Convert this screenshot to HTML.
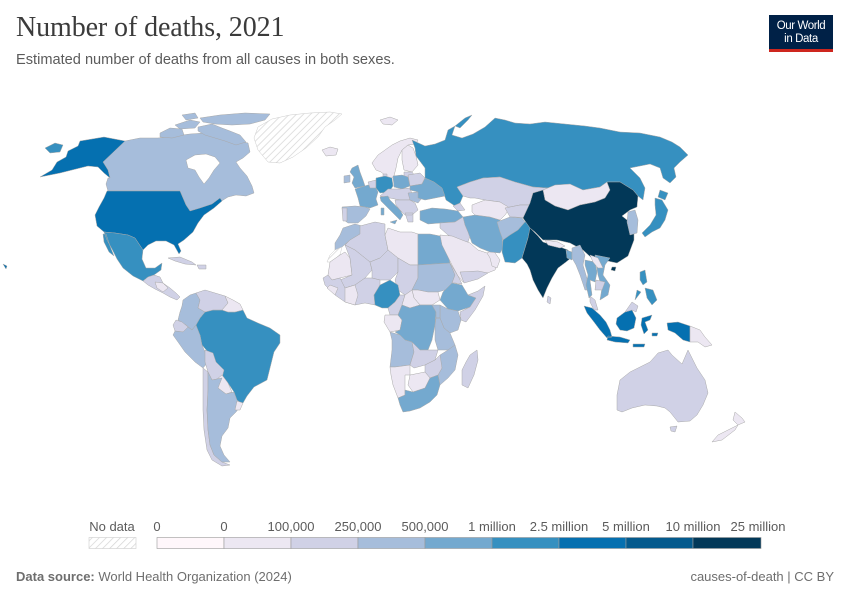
<!DOCTYPE html>
<html><head><meta charset="utf-8">
<style>
html,body{margin:0;padding:0;background:#fff;}
body{width:850px;height:600px;position:relative;overflow:hidden;font-family:"Liberation Sans",sans-serif;}
.title{position:absolute;left:16px;top:12px;font-family:"Liberation Serif",serif;font-size:28px;color:#3b3b3b;letter-spacing:-0.1px;}
.sub{position:absolute;left:16px;top:52px;font-size:14.6px;color:#5b5b5b;}
.logo{position:absolute;left:769px;top:15px;width:64px;height:37px;background:#002147;color:#fff;font-size:11.5px;line-height:12.5px;text-align:center;}
.logo div{padding-top:5px;letter-spacing:-0.4px}
.logo .bar{position:absolute;left:0;bottom:0;width:64px;height:3px;background:#ce261e;padding:0}
.foot{position:absolute;top:569px;font-size:13px;color:#6e6e6e;}
svg{position:absolute;left:0;top:0}
</style></head><body>
<div class="title">Number of deaths, 2021</div>
<div class="sub">Estimated number of deaths from all causes in both sexes.</div>
<div class="logo"><div>Our World<br>in Data</div><div class="bar"></div></div>
<svg width="850" height="600" viewBox="0 0 850 600">
<defs>
<pattern id="h" width="5" height="5" patternUnits="userSpaceOnUse" patternTransform="rotate(45)">
<rect width="5" height="5" fill="#fff"/><line x1="0" y1="0" x2="0" y2="5" stroke="#d4d4d4" stroke-width="1.4"/>
</pattern>
</defs>
<g stroke="#a9a9a9" stroke-width="0.5" stroke-linejoin="round">
<!-- North America -->
<path fill="#a6bddb" d="M125,141 L140,138 L158,138 L175,136 L190,134 L205,133 L220,136 L235,140 L248,143 L250,152 L243,158 L236,162 L240,168 L247,176 L252,186 L254,193 L246,196 L236,195 L228,197 L220,202 L212,207 L202,208 L190,211 L186,205 L180,191 L108,191 L106,184 L108,178 L110,178 L108,170 L103,162 Z"/>
<path fill="#fff" d="M186,160 L195,155 L206,154 L215,157 L220,163 L214,170 L209,178 L204,184 L199,177 L195,170 L188,168 Z"/>
<path fill="#a6bddb" d="M160,133 L170,128 L182,129 L184,135 L172,138 L160,137 Z M175,125 L190,120 L200,122 L195,128 L180,129 Z M198,127 L212,124 L222,128 L230,131 L240,135 L246,142 L236,145 L225,141 L215,138 L205,135 L198,131 Z M200,118 L220,115 L245,113 L270,114 L265,120 L250,124 L232,125 L215,124 L203,122 Z M182,115 L195,113 L198,118 L186,120 Z"/>
<path fill="url(#h)" stroke="#ccc" d="M268,162 L258,150 L254,138 L258,127 L272,119 L290,115 L310,113 L330,112 L342,114 L335,120 L325,127 L318,137 L306,148 L293,157 L280,163 Z"/>
<path fill="#0570b0" d="M40,177 L52,170 L57,162 L66,157 L68,151 L78,146 L80,141 L92,139 L104,137 L125,141 L103,162 L108,170 L110,178 L104,173 L98,167 L88,166 L76,169 L60,173 Z"/>
<path fill="#3690c0" d="M45,148 L55,143 L63,145 L60,152 L50,153 Z"/>
<path fill="#0570b0" d="M107,191 L180,191 L186,205 L190,211 L200,208 L212,204 L220,198 L222,201 L214,208 L204,215 L198,223 L193,232 L184,240 L178,244 L181,251 L179,254 L174,245 L166,241 L156,241 L148,245 L143,250 L135,238 L128,235 L115,233 L104,232 L97,226 L95,215 L99,207 L104,198 Z"/>
<path fill="#0570b0" d="M3,264 L7,266 L6,269 Z"/>
<path fill="#3690c0" d="M104,232 L115,233 L128,235 L135,238 L143,250 L142,259 L146,268 L155,268 L162,263 L161,270 L154,275 L148,277 L143,281 L133,276 L123,268 L117,259 L112,249 L107,240 Z M103,234 L106,234 L110,246 L114,256 L109,252 L104,242 Z"/>
<path fill="#d0d1e6" d="M143,281 L148,277 L154,275 L160,277 L163,283 L170,288 L176,293 L180,297 L177,300 L170,297 L163,293 L155,289 L148,285 Z"/>
<path fill="#ece7f2" d="M155,282 L163,283 L168,288 L163,292 L157,288 Z"/>
<path fill="#d0d1e6" d="M168,258 L180,257 L192,262 L196,265 L185,264 L175,261 Z M197,265 L206,265 L206,269 L199,269 Z"/>
<!-- South America -->
<path fill="#3690c0" d="M192,330 L196,325 L200,318 L205,312 L213,310 L222,310 L228,312 L235,312 L243,310 L247,318 L258,323 L270,328 L280,335 L280,343 L274,352 L270,368 L267,380 L254,387 L247,396 L243,403 L237,401 L234,392 L228,383 L222,375 L216,368 L214,358 L208,352 L202,345 L200,335 Z"/>
<path fill="#a6bddb" d="M183,300 L190,295 L196,293 L200,300 L198,308 L205,312 L200,318 L196,325 L192,330 L186,325 L178,320 L180,312 L182,306 Z"/>
<path fill="#d0d1e6" d="M196,293 L205,290 L215,293 L225,296 L228,303 L222,310 L213,310 L205,312 L198,308 L200,300 Z"/>
<path fill="#ece7f2" d="M225,296 L233,300 L240,304 L243,310 L235,312 L228,312 L222,310 L228,303 Z"/>
<path fill="#d0d1e6" d="M176,320 L182,322 L188,327 L183,332 L175,331 L173,325 Z"/>
<path fill="#a6bddb" d="M175,331 L183,332 L188,327 L192,330 L196,325 L200,335 L202,345 L205,352 L208,362 L203,368 L195,362 L185,352 L178,342 L173,335 Z"/>
<path fill="#d0d1e6" d="M205,350 L213,353 L216,362 L224,370 L222,378 L212,380 L208,372 L205,362 Z"/>
<path fill="#ece7f2" d="M222,375 L228,383 L232,392 L226,394 L218,388 L216,380 Z"/>
<path fill="#d0d1e6" d="M203,368 L208,372 L208,390 L207,410 L208,430 L210,445 L214,455 L222,462 L230,465 L222,466 L212,460 L207,450 L204,430 L203,410 L203,390 Z"/>
<path fill="#a6bddb" d="M208,372 L212,380 L222,378 L218,388 L226,394 L234,392 L237,400 L242,404 L236,412 L230,418 L228,428 L222,436 L220,446 L224,455 L230,462 L222,462 L214,455 L210,445 L208,430 L207,410 L208,390 Z"/>
<path fill="#ece7f2" d="M237,401 L243,403 L240,410 L235,410 Z"/>
<!-- Africa -->
<path fill="#a6bddb" d="M343,228 L355,224 L362,226 L360,234 L350,240 L342,247 L335,250 L335,243 L340,235 Z"/>
<path fill="url(#h)" stroke="#ccc" d="M335,250 L342,247 L340,255 L330,262 L327,262 L330,255 Z"/>
<path fill="#d0d1e6" d="M360,226 L375,222 L385,224 L385,235 L388,250 L380,258 L370,262 L355,250 L345,245 L350,240 L360,234 Z"/>
<path fill="#ece7f2" d="M388,228 L400,232 L412,232 L418,234 L418,265 L410,265 L398,258 L388,250 L385,235 Z"/>
<path fill="#74a9cf" d="M418,234 L430,234 L440,236 L444,245 L448,255 L450,263 L418,265 Z"/>
<path fill="#ece7f2" d="M330,262 L340,255 L345,252 L350,258 L352,275 L340,278 L332,280 L328,275 Z"/>
<path fill="#d0d1e6" d="M345,245 L355,250 L370,262 L372,270 L365,278 L355,285 L345,288 L340,280 L352,275 L350,258 Z"/>
<path fill="#d0d1e6" d="M370,262 L380,258 L388,250 L398,258 L398,272 L390,280 L380,280 L372,278 L372,270 Z"/>
<path fill="#d0d1e6" d="M398,258 L410,265 L418,265 L418,278 L412,290 L405,295 L398,290 L395,280 L398,272 Z"/>
<path fill="#a6bddb" d="M418,265 L450,263 L455,275 L452,283 L445,290 L438,292 L428,292 L418,290 L412,290 L418,278 Z"/>
<path fill="#d0d1e6" d="M450,263 L458,276 L462,284 L455,283 L452,283 L455,275 Z"/>
<path fill="#ece7f2" d="M412,290 L418,290 L428,292 L438,292 L440,300 L432,305 L420,305 L414,298 Z"/>
<path fill="#74a9cf" d="M443,292 L452,283 L462,285 L468,295 L476,298 L470,307 L458,311 L448,309 L440,300 Z"/>
<path fill="#d0d1e6" d="M468,295 L478,291 L485,286 L483,296 L475,310 L466,322 L461,320 L460,312 L470,307 L476,298 Z"/>
<path fill="#a6bddb" d="M440,305 L448,309 L458,311 L461,320 L458,330 L450,333 L444,328 L440,318 Z"/>
<path fill="#d0d1e6" d="M328,275 L332,280 L340,278 L345,288 L355,285 L365,278 L372,278 L380,280 L380,285 L374,295 L375,305 L365,303 L355,305 L345,302 L335,295 L325,285 L323,278 Z"/>
<path fill="#ece7f2" d="M345,288 L355,285 L358,295 L355,305 L345,302 Z M330,285 L338,288 L335,295 L327,288 Z"/>
<path fill="#3690c0" d="M380,285 L390,280 L398,285 L400,295 L395,302 L388,308 L382,308 L375,305 L374,295 Z"/>
<path fill="#d0d1e6" d="M388,308 L395,302 L400,295 L405,295 L402,305 L398,315 L390,315 Z"/>
<path fill="#ece7f2" d="M405,295 L412,290 L414,298 L420,305 L410,308 L402,305 Z M385,315 L398,315 L402,320 L400,330 L390,332 L384,322 Z"/>
<path fill="#74a9cf" d="M402,305 L410,308 L420,305 L432,305 L436,312 L435,325 L432,340 L428,350 L420,350 L412,342 L405,340 L400,335 L395,332 L400,330 L402,320 L398,315 Z"/>
<path fill="#a6bddb" d="M432,305 L440,305 L440,318 L436,318 L436,312 Z M436,318 L440,318 L444,328 L450,333 L455,345 L448,350 L438,350 L435,340 L435,325 Z"/>
<path fill="#a6bddb" d="M390,332 L400,335 L405,340 L412,342 L414,352 L410,365 L395,367 L390,367 L392,350 L392,340 Z"/>
<path fill="#d0d1e6" d="M412,342 L420,350 L428,350 L438,350 L435,360 L425,365 L414,368 L410,365 L414,352 Z"/>
<path fill="#a6bddb" d="M448,350 L455,345 L458,355 L455,370 L448,378 L440,385 L438,375 L442,368 L438,362 L440,355 Z"/>
<path fill="#d0d1e6" d="M425,365 L435,360 L440,355 L442,368 L438,375 L430,378 L425,372 Z"/>
<path fill="#ece7f2" d="M390,367 L395,367 L410,365 L410,375 L405,375 L405,395 L398,398 L393,385 L391,375 Z M410,375 L425,372 L430,378 L425,388 L413,392 L408,385 Z"/>
<path fill="#74a9cf" d="M398,398 L405,395 L405,390 L413,392 L425,388 L430,378 L438,375 L440,385 L437,395 L430,402 L420,408 L410,411 L403,412 L400,405 Z"/>
<path fill="#d0d1e6" d="M470,355 L477,350 L478,360 L474,375 L468,388 L462,385 L462,370 L466,362 Z"/>
<!-- Europe -->
<path fill="#ece7f2" d="M322,150 L330,147 L338,149 L336,155 L326,156 Z M380,120 L390,117 L398,120 L392,125 L383,124 Z"/>
<path fill="#ece7f2" d="M372,163 L378,155 L385,150 L392,145 L400,141 L410,138 L418,140 L416,144 L408,145 L402,150 L398,158 L396,168 L394,176 L390,180 L386,176 L381,172 L376,170 Z"/>
<path fill="#ece7f2" d="M402,150 L408,145 L413,148 L416,156 L418,165 L412,172 L404,170 L402,160 Z"/>
<path fill="#d0d1e6" d="M404,172 L412,172 L415,176 L408,179 L404,177 Z M383,174 L387,174 L387,179 L383,179 Z"/>
<path fill="#74a9cf" d="M352,168 L358,165 L360,172 L363,180 L365,186 L355,188 L352,183 L354,177 L350,172 Z"/>
<path fill="#a6bddb" d="M344,176 L350,175 L350,182 L344,183 Z"/>
<path fill="#74a9cf" d="M355,189 L368,185 L375,186 L378,192 L376,199 L378,205 L370,208 L360,206 L358,198 Z"/>
<path fill="#a6bddb" d="M342,207 L355,206 L365,207 L370,209 L366,216 L358,223 L348,223 L344,220 Z"/>
<path fill="#d0d1e6" d="M342,208 L347,208 L347,221 L343,221 Z"/>
<path fill="#d0d1e6" d="M368,182 L376,180 L376,188 L370,188 Z"/>
<path fill="#3690c0" d="M376,178 L385,176 L392,178 L393,186 L389,192 L380,193 L376,188 Z"/>
<path fill="#74a9cf" d="M393,176 L402,175 L408,177 L410,186 L402,189 L394,187 Z"/>
<path fill="#d0d1e6" d="M388,189 L400,189 L410,188 L412,194 L410,200 L400,200 L390,198 L380,196 Z"/>
<path fill="#74a9cf" d="M380,197 L388,196 L390,200 L395,205 L400,210 L403,215 L400,220 L396,216 L390,210 L384,204 L381,201 Z M390,222 L397,220 L395,224 Z M381,208 L384,208 L384,215 L381,215 Z"/>
<path fill="#d0d1e6" d="M395,200 L410,200 L415,203 L418,210 L412,215 L405,215 L400,210 L396,205 Z M405,213 L413,213 L413,222 L408,222 Z"/>
<path fill="#a6bddb" d="M408,193 L418,192 L422,198 L418,203 L410,200 Z"/>
<path fill="#d0d1e6" d="M408,175 L420,173 L425,178 L422,184 L410,186 Z"/>
<!-- Russia etc -->
<path fill="#3690c0" d="M412,140 L425,146 L435,144 L445,140 L448,130 L455,126 L452,135 L462,138 L473,134 L485,127 L495,118 L505,120 L515,123 L530,124 L545,122 L565,124 L585,126 L600,128 L620,132 L640,133 L660,137 L672,142 L680,147 L688,155 L680,162 L674,168 L676,177 L670,183 L663,178 L660,168 L650,164 L640,166 L630,168 L640,178 L645,188 L643,200 L638,196 L633,190 L620,182 L607,182 L600,187 L583,190 L563,185 L547,188 L533,187 L515,182 L500,177 L483,178 L470,182 L457,187 L463,196 L460,203 L455,206 L446,200 L442,188 L434,182 L425,178 L425,168 L416,156 L415,148 Z M455,126 L465,118 L472,115 L468,120 L460,128 Z"/>
<path fill="#74a9cf" d="M410,186 L422,184 L425,178 L434,182 L442,188 L445,196 L435,198 L425,200 L418,198 L418,192 L410,190 Z"/>
<path fill="#d0d1e6" d="M457,187 L470,182 L483,178 L500,177 L515,182 L533,187 L547,188 L545,195 L535,200 L530,205 L520,205 L505,208 L500,202 L485,200 L475,198 L470,198 L463,196 Z"/>
<path fill="#74a9cf" d="M420,211 L432,208 L445,209 L458,211 L463,217 L455,222 L440,223 L428,224 L420,220 Z"/>
<path fill="#d0d1e6" d="M453,206 L460,203 L465,210 L458,211 Z"/>
<path fill="#d0d1e6" d="M440,223 L455,222 L463,217 L466,225 L470,236 L468,242 L458,240 L448,235 L440,228 Z"/>
<path fill="#ece7f2" d="M440,235 L452,236 L462,240 L470,243 L478,250 L487,253 L492,258 L498,263 L495,270 L485,274 L475,277 L463,282 L458,276 L452,265 L447,255 L442,245 Z"/>
<path fill="#ece7f2" d="M487,253 L493,250 L500,260 L497,268 L492,266 L490,258 Z"/>
<path fill="#d0d1e6" d="M460,272 L478,271 L488,273 L478,279 L464,283 Z"/>
<path fill="#74a9cf" d="M463,217 L475,215 L490,217 L500,220 L502,235 L503,248 L500,253 L490,252 L480,248 L472,243 L468,232 L465,225 Z"/>
<path fill="#ece7f2" d="M472,205 L485,200 L500,202 L510,208 L505,215 L500,220 L490,217 L475,215 L472,212 Z"/>
<path fill="#d0d1e6" d="M505,208 L520,205 L530,205 L530,212 L525,218 L515,217 L510,217 Z"/>
<path fill="#a6bddb" d="M497,222 L510,217 L522,218 L525,222 L518,230 L510,235 L503,240 L500,232 Z"/>
<path fill="#3690c0" d="M503,240 L510,235 L518,230 L525,222 L530,222 L532,228 L528,238 L525,248 L522,258 L515,263 L505,262 L502,252 Z"/>
<path fill="#ece7f2" d="M543,190 L555,185 L570,184 L583,190 L600,187 L607,182 L610,190 L605,198 L595,202 L580,205 L568,210 L555,206 L545,200 Z"/>
<path fill="#023858" d="M530,203 L533,193 L543,190 L545,200 L555,206 L568,210 L580,205 L595,202 L605,198 L610,190 L607,182 L620,182 L633,190 L638,196 L637,207 L630,210 L622,216 L627,220 L634,225 L634,240 L628,256 L617,263 L603,260 L597,263 L583,250 L570,243 L557,240 L543,240 L535,232 L530,228 L523,218 Z M612,267 L616,267 L615,271 L611,270 Z"/>
<path fill="#023858" d="M530,228 L538,236 L543,242 L552,245 L560,247 L568,250 L572,257 L566,262 L558,268 L552,278 L547,288 L543,298 L538,290 L533,280 L530,270 L527,264 L522,258 L525,248 L528,238 Z"/>
<path fill="#ece7f2" d="M545,240 L558,242 L565,246 L560,248 L548,245 Z"/>
<path fill="#74a9cf" d="M566,250 L572,252 L572,260 L567,258 Z"/>
<path fill="#d0d1e6" d="M548,296 L551,298 L550,304 L547,302 Z"/>
<path fill="#a6bddb" d="M572,248 L580,245 L585,255 L583,265 L586,275 L590,290 L585,290 L580,275 L576,265 L572,258 Z"/>
<path fill="#74a9cf" d="M585,260 L595,262 L597,272 L595,282 L590,280 L592,295 L589,298 L586,285 L588,275 L585,265 Z"/>
<path fill="#74a9cf" d="M595,255 L610,258 L605,265 L603,275 L610,285 L608,295 L600,300 L602,288 L598,275 Z"/>
<path fill="#ece7f2" d="M590,255 L598,258 L603,268 L598,268 L593,262 Z"/>
<path fill="#d0d1e6" d="M596,280 L605,282 L602,290 L595,290 Z M590,296 L595,300 L598,310 L594,310 L590,302 Z"/>
<path fill="#a6bddb" d="M628,212 L635,210 L638,220 L637,233 L630,235 L627,222 Z"/>
<path fill="#3690c0" d="M655,198 L662,200 L668,210 L665,220 L660,228 L652,232 L645,237 L642,233 L650,225 L656,215 L655,205 Z M660,190 L668,193 L665,200 L658,197 Z"/>
<path fill="#3690c0" d="M640,272 L645,270 L647,282 L643,285 L640,280 Z M645,288 L653,290 L657,300 L652,305 L647,298 Z M637,290 L641,292 L635,300 Z"/>
<path fill="#0570b0" d="M584,306 L592,308 L600,315 L606,322 L610,330 L612,337 L607,338 L600,330 L594,322 L587,313 Z M608,336 L620,337 L630,340 L628,343 L615,342 L607,340 Z M617,318 L625,312 L632,310 L636,318 L634,328 L627,331 L620,330 L616,324 Z M642,318 L652,315 L650,320 L645,322 L648,330 L644,334 L641,325 Z M667,323 L678,322 L690,326 L690,342 L683,340 L675,333 L668,330 Z M633,344 L645,344 L644,347 L633,347 Z M652,333 L658,333 L657,336 L652,336 Z"/>
<path fill="#d0d1e6" d="M625,312 L632,302 L638,306 L636,312 L632,310 Z"/>
<path fill="#ece7f2" d="M690,326 L700,330 L705,337 L712,345 L705,347 L698,342 L690,342 Z"/>
<path fill="#d0d1e6" d="M617,410 L617,395 L620,380 L630,372 L640,367 L650,362 L658,353 L668,350 L672,355 L682,364 L688,350 L692,358 L697,368 L705,380 L708,393 L703,405 L697,415 L690,421 L678,422 L670,412 L665,408 L657,406 L645,405 L632,408 L622,412 Z M670,427 L677,426 L675,432 L671,431 Z"/>
<path fill="#ece7f2" d="M735,412 L742,418 L745,422 L738,425 L733,420 Z M718,435 L732,428 L738,425 L735,430 L722,440 L712,442 Z"/>
</g>
<!-- Legend -->
<g font-family="Liberation Sans, sans-serif" font-size="13" fill="#5b5b5b" text-anchor="middle">
<text x="112" y="531">No data</text>
<text x="157" y="531">0</text>
<text x="224" y="531">0</text>
<text x="291" y="531">100,000</text>
<text x="358" y="531">250,000</text>
<text x="425" y="531">500,000</text>
<text x="492" y="531">1 million</text>
<text x="559" y="531">2.5 million</text>
<text x="626" y="531">5 million</text>
<text x="693" y="531">10 million</text>
<text x="758" y="531">25 million</text>
</g>
<g stroke="#999" stroke-width="0.6">
<rect x="89" y="537.5" width="47" height="11" fill="url(#h)" stroke="#ccc"/>
<rect x="157" y="537.5" width="67" height="11" fill="#fff7fb"/>
<rect x="224" y="537.5" width="67" height="11" fill="#ece7f2"/>
<rect x="291" y="537.5" width="67" height="11" fill="#d0d1e6"/>
<rect x="358" y="537.5" width="67" height="11" fill="#a6bddb"/>
<rect x="425" y="537.5" width="67" height="11" fill="#74a9cf"/>
<rect x="492" y="537.5" width="67" height="11" fill="#3690c0"/>
<rect x="559" y="537.5" width="67" height="11" fill="#0570b0"/>
<rect x="626" y="537.5" width="67" height="11" fill="#045a8d"/>
<rect x="693" y="537.5" width="68" height="11" fill="#023858"/>
</g>
</svg>
<div class="foot" style="left:16px;"><b>Data source:</b> World Health Organization (2024)</div>
<div class="foot" style="right:16px;">causes-of-death | CC BY</div>
</body></html>
